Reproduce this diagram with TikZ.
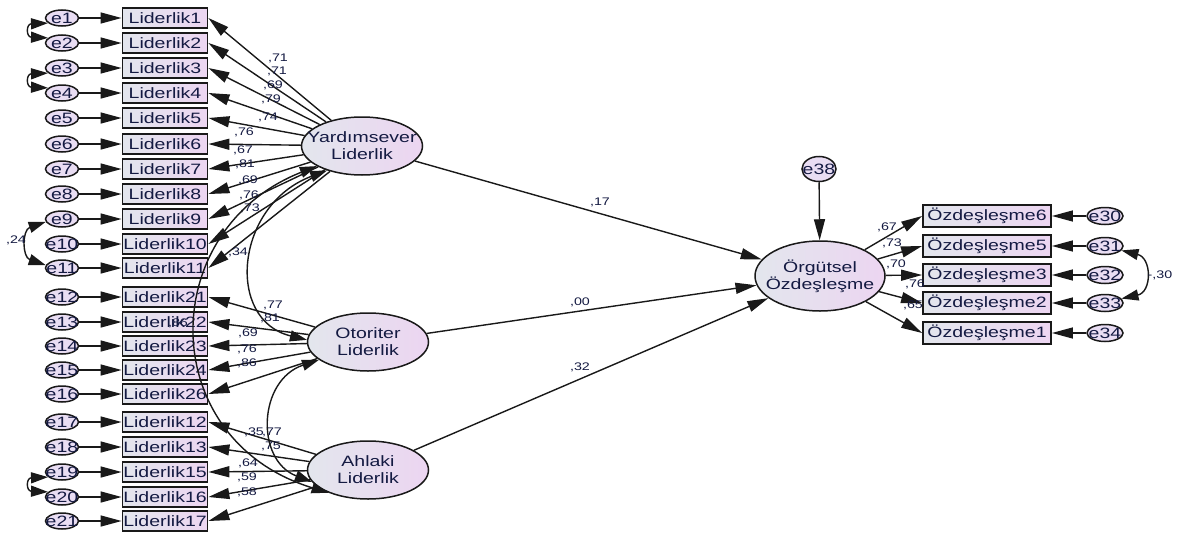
\documentclass[tikz,border=0pt]{standalone}
\usepackage{fontspec}
\usepackage{tikz}
\usetikzlibrary{arrows.meta,shapes.geometric}
\newfontfamily\amosfont[FakeStretch=1.3]{Liberation Sans}
\definecolor{shadeL}{RGB}{227,230,237}
\definecolor{shadeR}{RGB}{236,213,241}
\definecolor{errfill}{RGB}{233,221,243}
\definecolor{ink}{RGB}{20,26,66}
\definecolor{edge}{RGB}{25,25,25}
\tikzset{
  obs/.style={draw=edge,line width=1.8pt,left color=shadeL,right color=shadeR,
    minimum width=85pt,minimum height=20pt,inner sep=0pt,text=ink,
    font=\amosfont\fontsize{15}{15}\selectfont},
  latent/.style={ellipse,draw=edge,line width=1.5pt,left color=shadeL,right color=shadeR,
    minimum width=121pt,minimum height=58pt,inner sep=0pt},
  lattext/.style={align=center,text=ink,inner sep=0pt,
    font=\amosfont\fontsize{15}{17}\selectfont},
  err/.style={ellipse,draw=edge,line width=1.5pt,fill=errfill,
    minimum width=33pt,minimum height=16pt,inner sep=0pt,text=ink,
    font=\amosfont\fontsize{15}{15}\selectfont},
  coef/.style={text=ink,inner sep=0pt,font=\amosfont\fontsize{11}{11}\selectfont},
  arr/.style={draw=edge,line width=1.4pt,-{Triangle[length=21pt,width=11pt]}},
  cov/.style={draw=edge,line width=1.4pt,{Triangle[length=17pt,width=11pt]}-{Triangle[length=17pt,width=11pt]}}
}
\begin{document}
\begin{tikzpicture}[x=1pt,y=-1pt]
  \fill[white] (0,0) rectangle (1178,538);
  % latent variables
  \node[latent,label={[lattext]center:Yardımsever\\Liderlik}] (yard) at (362,146) {};
  \node[latent,label={[lattext]center:Otoriter\\Liderlik}] (otor) at (368,342) {};
  \node[latent,label={[lattext]center:Ahlaki\\Liderlik}] (ahl) at (368,470) {};
  \node[latent,minimum width=130pt,minimum height=70pt,
    label={[lattext]center:Örgütsel\\Özdeşleşme}] (org) at (820,276) {};

  % Yardimsever indicators
  \foreach \i/\y/\v/\lx/\ly in {1/18/71/278/58, 2/43/71/277/71, 3/68/69/273/85,
      4/93/79/271/99, 5/118/74/268/117, 6/144/76/244/132, 7/169/67/243/150,
      8/194/81/245/164, 9/219/69/248/180, 10/244/76/249/195, 11/268/73/250/208}
  {
    \node[err] (e\i) at (62,\y) {\makebox[0pt]{e\i}};
    \node[obs] (L\i) at (165,\y) {Liderlik\i};
    \draw[arr] (e\i) -- (L\i);
    \draw[arr] (yard) -- (L\i.east);
    \node[coef] at (\lx,\ly) {,\v};
  }

  % Otoriter indicators
  \foreach \e/\n/\y/\v/\lx/\ly in {12/21/297/77/273/305, 13/22/322/81/270/318,
      14/23/346/69/248/333, 15/24/370/76/247/349, 16/26/394/86/247/363}
  {
    \node[err] (e\e) at (62,\y) {\makebox[0pt]{e\e}};
    \node[obs] (L\n) at (165,\y) {Liderlik\n};
    \draw[arr] (e\e) -- (L\n);
    \draw[arr] (otor) -- (L\n.east);
    \node[coef] at (\lx,\ly) {,\v};
  }

  % Ahlaki indicators
  \foreach \e/\n/\y/\v/\lx/\ly in {17/12/422/77/272/432, 18/13/447/75/271/446,
      19/15/472/64/248/463, 20/16/497/59/247/477, 21/17/521/58/247/492}
  {
    \node[err] (e\e) at (62,\y) {\makebox[0pt]{e\e}};
    \node[obs] (L\n) at (165,\y) {Liderlik\n};
    \draw[arr] (e\e) -- (L\n);
    \draw[arr] (ahl) -- (L\n.east);
    \node[coef] at (\lx,\ly) {,\v};
  }

  % Orgutsel Ozdeslesme indicators
  \foreach \e/\n/\y/\v/\lx/\ly in {30/6/216/67/887/227, 31/5/246/73/892/243,
      32/3/275/70/896/264, 33/2/303/76/915/284, 34/1/333/65/913/305}
  {
    \node[obs,minimum width=128pt,minimum height=22pt] (O\n) at (987,\y) {Özdeşleşme\n};
    \node[err,minimum width=36pt,minimum height=17pt] (e\e) at (1105,\y) {\makebox[0pt]{e\e}};
    \draw[arr] (e\e) -- (O\n);
    \draw[arr] (org) -- (O\n.west);
    \node[coef] at (\lx,\ly) {,\v};
  }

  % structural paths
  \node[err,minimum width=34pt,minimum height=25pt] (e38) at (819,169) {\makebox[0pt]{e38}};
  \draw[arr] (e38) -- (org);
  \draw[arr] (yard) -- (org);
  \draw[arr] (otor) -- (org);
  \draw[arr] (ahl) -- (org);
  \node[coef] at (600,202) {,17};
  \node[coef] at (580,302) {,00};
  \node[coef] at (580,367) {,32};

  % covariances
  \draw[cov] (yard.215) .. controls (235,205) and (225,320) .. (otor.178);
  \draw[cov] (yard.204) .. controls (155,230) and (155,440) .. (ahl.210);
  \draw[cov] (otor.200) .. controls (258,380) and (255,460) .. (ahl.192);
  \node[coef] at (238,252) {,34};
  \node[coef] at (178,323) {,86};
  \node[coef] at (254,432) {,35};

  \draw[cov] (e1.200) .. controls (26,24) and (26,37) .. (e2.160);
  \draw[cov] (e3.200) .. controls (26,74) and (26,87) .. (e4.160);
  \draw[cov] (e19.200) .. controls (26,478) and (26,491) .. (e20.160);
  \draw[cov] (e9.190) .. controls (22,230) and (22,257) .. (e11.170);
  \node[coef] at (16,240) {,24};
  \draw[cov] (e31.-15) .. controls (1152,258) and (1152,292) .. (e33.15);
  \node[coef] at (1160,275) {-,30};
\end{tikzpicture}
\end{document}
